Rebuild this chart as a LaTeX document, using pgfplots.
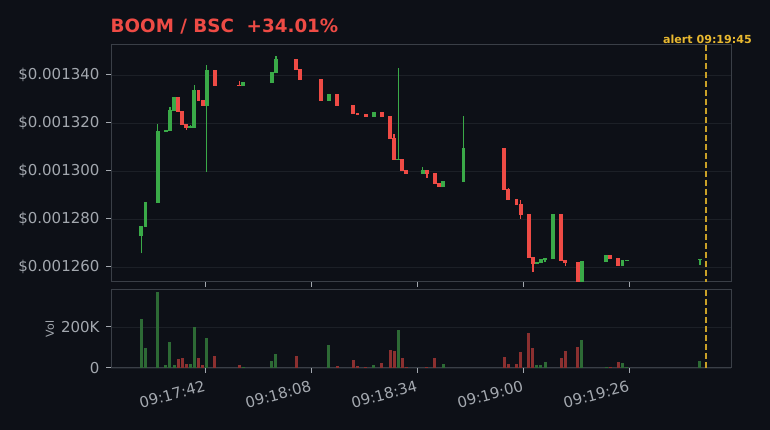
\documentclass[border=0pt]{standalone}
\usepackage{fontspec}
\setmainfont{DejaVu Sans}
\usepackage{pgfplots}
\pgfplotsset{compat=1.18}
\usepackage{pgfplotstable}

\definecolor{bg}{HTML}{0D1017}
\definecolor{frame}{HTML}{3A3F47}
\definecolor{gridc}{HTML}{1C2027}
\definecolor{labc}{HTML}{A3A8AF}
\definecolor{cgreen}{HTML}{3AAA48}
\definecolor{cred}{HTML}{EE4B45}
\definecolor{vgreen}{HTML}{2D6A35}
\definecolor{vred}{HTML}{8B3030}
\definecolor{gold}{HTML}{C9A027}
\definecolor{alertc}{HTML}{E8B830}

% t = seconds after 09:17:00, prices in units of 1e-6
\pgfplotstableread{
t o c h l
26.4 1272.9 1277.1 1277.1 1265.7
27.4 1276.8 1287.1 1287.1 1276.8
30.4 1286.8 1316.7 1319.6 1286.8
32.4 1316.3 1317.1 1317.1 1316.3
33.4 1316.7 1325.4 1326.7 1316.7
34.4 1325.0 1330.8 1330.8 1325.0
38.4 1317.9 1318.6 1319.2 1317.9
39.4 1317.9 1333.8 1335.8 1317.9
42.4 1327.1 1342.1 1344.2 1299.7
51.4 1335.5 1337.1 1337.1 1335.5
58.4 1336.7 1341.2 1341.2 1336.7
59.4 1340.8 1346.7 1347.9 1340.8
72.4 1329.2 1332.1 1332.1 1329.2
83.4 1322.5 1324.6 1324.6 1322.5
89.4 1304.6 1305.0 1342.8 1304.6
95.4 1298.8 1300.4 1301.7 1298.8
100.4 1293.3 1295.8 1295.8 1293.3
105.4 1295.4 1309.6 1322.9 1295.4
123.4 1261.2 1262.1 1262.1 1261.2
124.4 1261.7 1263.3 1263.3 1261.7
125.4 1262.9 1263.8 1263.8 1262.1
127.4 1263.3 1282.1 1282.1 1263.3
134.4 1250.0 1262.5 1262.5 1250.0
140.4 1262.1 1265.0 1265.0 1262.1
144.4 1260.4 1262.9 1262.9 1260.4
145.4 1262.5 1262.9 1262.9 1262.5
163.4 1262.9 1263.3 1263.3 1260.8
}\upcandles

\pgfplotstableread{
t o c h l
35.4 1330.8 1324.6 1330.8 1324.6
36.4 1325.0 1319.2 1325.0 1319.2
37.4 1319.6 1317.9 1319.6 1317.2
40.4 1333.8 1329.2 1333.8 1329.2
41.4 1329.6 1327.1 1329.6 1327.1
44.4 1342.1 1335.4 1342.1 1335.4
50.4 1336.0 1335.5 1337.4 1335.5
64.4 1346.7 1342.1 1346.7 1342.1
65.4 1342.5 1337.9 1342.5 1337.9
70.4 1338.3 1329.2 1338.3 1329.2
74.4 1332.1 1327.1 1332.1 1327.1
78.4 1327.5 1323.8 1327.5 1323.8
79.4 1324.2 1323.3 1324.2 1323.3
81.4 1323.8 1322.5 1323.8 1322.5
85.4 1324.6 1322.5 1324.6 1322.5
87.4 1322.9 1313.3 1322.9 1313.3
88.4 1313.8 1304.6 1315.4 1304.6
90.4 1305.0 1300.0 1305.0 1300.0
91.4 1300.4 1298.8 1300.4 1298.8
96.4 1300.4 1298.8 1300.4 1297.1
98.4 1299.2 1294.6 1299.2 1294.6
99.4 1295.0 1293.3 1295.0 1293.3
115.4 1309.6 1292.1 1309.6 1292.1
116.4 1292.5 1287.9 1292.9 1287.9
118.4 1288.3 1285.8 1288.3 1285.8
119.4 1286.2 1281.7 1287.9 1280.0
121.4 1282.1 1263.8 1282.1 1263.8
122.4 1264.2 1261.2 1264.2 1257.9
129.4 1282.1 1262.5 1282.1 1262.5
130.4 1262.9 1261.7 1262.9 1260.4
133.4 1262.1 1250.0 1262.1 1250.0
141.4 1265.0 1263.3 1265.0 1263.3
143.4 1263.8 1260.4 1263.8 1260.4
}\downcandles

\pgfplotstableread{
t v
26.4 241000
27.4 98000
30.4 368000
32.4 15000
33.4 128000
34.4 15000
38.4 20000
39.4 201000
42.4 147000
51.4 5000
58.4 34000
59.4 69000
72.4 113000
83.4 15000
89.4 187000
100.4 20000
123.4 15000
124.4 15000
125.4 29000
134.4 138000
140.4 5000
144.4 25000
145.4 5000
163.4 34000
}\upvol

\pgfplotstableread{
t v
35.4 44000
36.4 49000
37.4 20000
40.4 49000
41.4 15000
44.4 59000
50.4 15000
64.4 59000
74.4 10000
78.4 39000
79.4 10000
81.4 5000
85.4 25000
87.4 88000
88.4 84000
90.4 49000
91.4 5000
96.4 5000
98.4 49000
115.4 54000
116.4 20000
118.4 20000
119.4 79000
121.4 172000
122.4 98000
129.4 49000
130.4 84000
133.4 103000
141.4 5000
143.4 29000
}\downvol

\pgfplotsset{
  darkax/.style={
    scale only axis, width=620pt,
    xmin=18.94, xmax=171.02,
    axis line style={draw=frame, line width=1pt},
    tick align=outside, major tick length=5pt,
    xtick pos=bottom, ytick pos=left,
    every tick/.style={draw=labc, line width=1pt},
    tick label style={font=\fontsize{15}{17}\selectfont, color=labc},
    yticklabel style={xshift=-3pt},
    grid style={draw=gridc, line width=0.8pt},
    ymajorgrids,
    xtick={42,68,94,120,146},
    axis background/.style={fill=bg},
  },
  wick/.style={forget plot, draw=none, mark=none,
    error bars/.cd, y dir=plus, y explicit, error mark=none,
    error bar style={draw=#1, line width=1.5pt, solid}},
  body/.style={forget plot, draw=none, mark=none,
    error bars/.cd, y dir=plus, y explicit, error mark=none,
    error bar style={draw=#1, line width=3.9pt, solid}},
}

\begin{document}
\begin{tikzpicture}
\fill[bg] (0pt,0pt) rectangle (770pt,430pt);

\begin{axis}[darkax,
  at={(111pt,148pt)}, anchor=south west, height=237pt,
  ymin=1253.75, ymax=1352.5,
  ytick={1260,1280,1300,1320,1340},
  yticklabels={\$0.001260,\$0.001280,\$0.001300,\$0.001320,\$0.001340},
  xticklabels={},
]
\addplot[wick=cgreen] table[x=t, y=l, y error plus expr=\thisrow{h}-\thisrow{l}] {\upcandles};
\addplot[body=cgreen] table[x=t, y=o, y error plus expr=\thisrow{c}-\thisrow{o}] {\upcandles};
\addplot[wick=cred] table[x=t, y=l, y error plus expr=\thisrow{h}-\thisrow{l}] {\downcandles};
\addplot[body=cred] table[x=t, y=c, y error plus expr=\thisrow{o}-\thisrow{c}] {\downcandles};
\addplot[gold, line width=2pt, dash pattern=on 6pt off 3pt] coordinates {(165,1352.5) (165,1240)};
\end{axis}

\begin{axis}[darkax,
  at={(111pt,62pt)}, anchor=south west, height=78pt,
  ymin=0, ymax=380000,
  ytick={0,200000}, yticklabels={0,200K},
  scaled y ticks=false,
  xticklabels={09:17:42,09:18:08,09:18:34,09:19:00,09:19:26},
  x tick label style={rotate=15, anchor=north east, yshift=-3pt},
  ylabel={Vol},
  ylabel style={font=\fontsize{11}{13}\selectfont, color=labc},
]
\addplot[ycomb, vgreen, line width=3pt, mark=none] table[x=t, y=v] {\upvol};
\addplot[ycomb, vred, line width=3pt, mark=none] table[x=t, y=v] {\downvol};
\addplot[gold, line width=2pt, dash pattern=on 6pt off 3pt] coordinates {(165,380000) (165,-10000)};
\end{axis}

\node[anchor=base west, inner sep=0pt, text=cred, font=\fontsize{18.3}{21}\selectfont\bfseries]
  at (110.5pt,397pt) {BOOM / BSC\hspace{0.7em}+34.01\%};
\node[anchor=base east, inner sep=0pt, text=alertc, font=\fontsize{11.1}{13}\selectfont\bfseries]
  at (752pt,386pt) {alert 09:19:45};
\end{tikzpicture}
\end{document}
